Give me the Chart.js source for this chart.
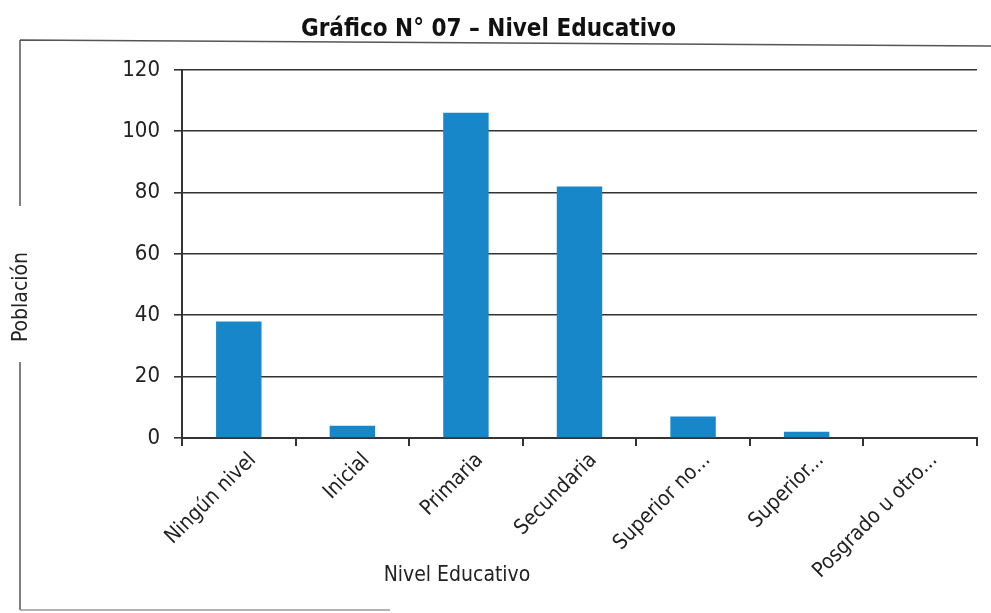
<!DOCTYPE html>
<html>
<head>
<meta charset="utf-8">
<script src="https://cdn.jsdelivr.net/npm/chart.js@4/dist/chart.umd.min.js"></script>
<style>
  html, body { margin: 0; padding: 0; background: #fff; }
  #wrap { width: 991px; height: 613px; position: relative; }
</style>
</head>
<body>
<div id="wrap"><canvas id="grafico"></canvas></div>
<script>
let ctx = document.getElementById('grafico')

// datos del gráfico
const categorias = ['Ningún nivel', 'Inicial', 'Primaria', 'Secundaria', 'Superior no...', 'Superior...', 'Posgrado u otro...']
const poblacion = [38, 4, 106, 82, 7, 2, 0]
const ticksY = [0, 20, 40, 60, 80, 100, 120]

const fuente = "'Liberation Sans Narrow', 'DejaVu Sans Condensed', 'Arial Narrow', sans-serif"

Chart.defaults.font.family = fuente
Chart.defaults.color = '#222'

// marco, título del eje Y y título del eje X (como en el original escaneado)
const extras = {
  id: 'extras',
  afterDraw(chart) {
    const c = chart.ctx
    c.save()
    c.strokeStyle = '#555'
    c.lineWidth = 1.5
    c.beginPath()
    c.moveTo(20, 40); c.lineTo(991, 46)
    c.moveTo(20, 40); c.lineTo(20, 206)
    c.moveTo(20, 362); c.lineTo(20, 610)
    c.stroke()
    c.strokeStyle = '#999'
    c.beginPath()
    c.moveTo(20, 610); c.lineTo(390, 610)
    c.stroke()

    c.fillStyle = '#222'
    c.font = '21px ' + fuente
    c.textAlign = 'center'
    c.textBaseline = 'middle'
    c.fillText('Nivel Educativo', 457, 576)
    c.translate(22, 297)
    c.rotate(-Math.PI / 2)
    c.fillText('Población', 0, 0)
    c.restore()
  }
}

const data = {
  labels: categorias,
  datasets: [{
    data: poblacion,
    backgroundColor: '#1787c9',
    barPercentage: 0.4,
    categoryPercentage: 1
  }]
}

const config = {
  type: 'bar',
  data,
  options: {
    responsive: true,
    maintainAspectRatio: false,
    animation: false,
    layout: { padding: { left: 0, right: 14, top: 0, bottom: 0 } },
    plugins: {
      legend: { display: false },
      tooltip: { enabled: false },
      title: {
        display: true,
        text: 'Gráfico N° 07 – Nivel Educativo',
        color: '#111',
        font: { size: 24, weight: 'bold' },
        padding: { top: 15, bottom: 26 }
      }
    },
    scales: {
      x: {
        afterFit: s => { s.height = 175 },
        grid: { drawOnChartArea: false, drawTicks: true, tickLength: 8, color: '#333', lineWidth: 2 },
        border: { display: true, color: '#333', width: 2 },
        ticks: { maxRotation: 45, minRotation: 45, font: { size: 21 }, color: '#222', padding: 2, labelOffset: 14 }
      },
      y: {
        min: 0,
        max: 120,
        afterFit: s => { s.width = 182 },
        afterBuildTicks: s => { s.ticks = ticksY.map(v => ({ value: v })) },
        grid: { color: '#333', lineWidth: 1.6, tickLength: 8 },
        border: { display: true, color: '#333', width: 2 },
        ticks: { font: { size: 22 }, color: '#222', padding: 14 }
      }
    }
  },
  plugins: [extras]
}

const graph = new Chart(ctx, config)
</script>
</body>
</html>
